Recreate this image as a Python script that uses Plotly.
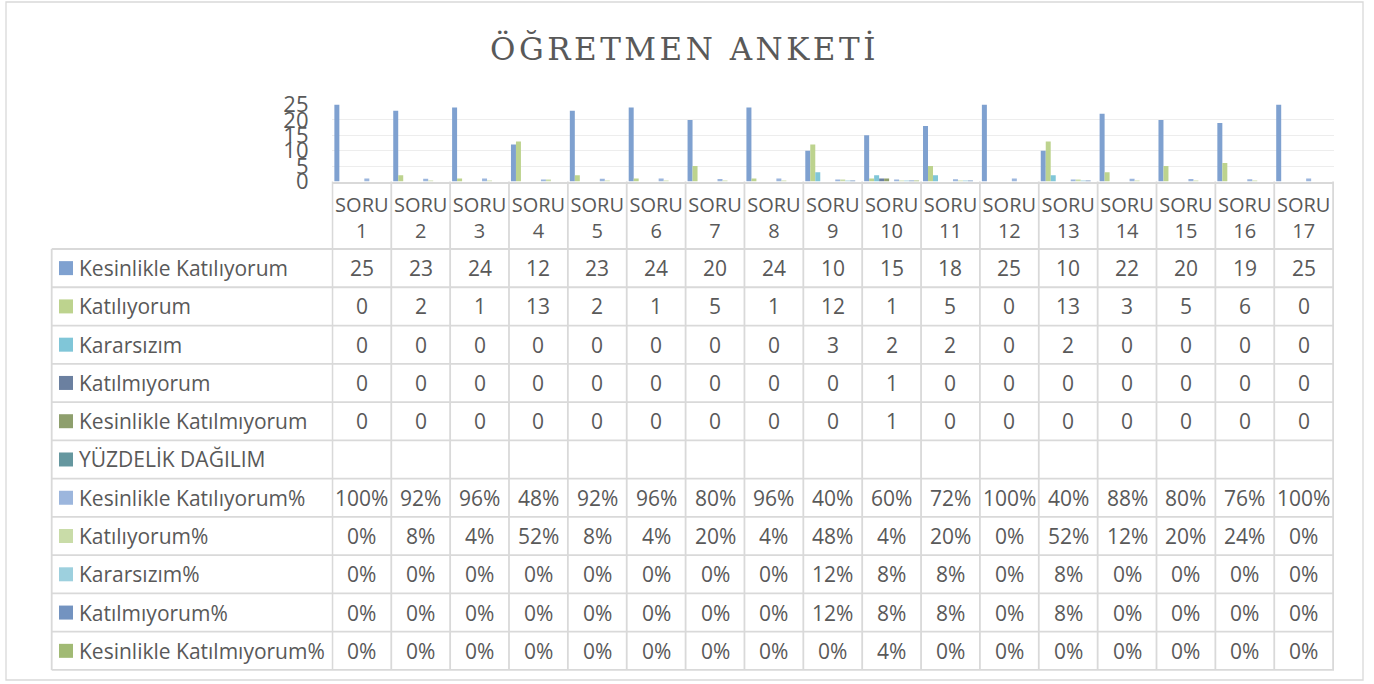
import plotly.graph_objects as go

W, H = 1374, 684

categories = [f"SORU {i}" for i in range(1, 18)]
tick_labels = [f"SORU<br>{i}" for i in range(1, 18)]

series_names = [
    "Kesinlikle Katılıyorum",
    "Katılıyorum",
    "Kararsızım",
    "Katılmıyorum",
    "Kesinlikle Katılmıyorum",
    "YÜZDELİK DAĞILIM",
    "Kesinlikle Katılıyorum%",
    "Katılıyorum%",
    "Kararsızım%",
    "Katılmıyorum%",
    "Kesinlikle Katılmıyorum%",
]

kesinlikle_katiliyorum = [25, 23, 24, 12, 23, 24, 20, 24, 10, 15, 18, 25, 10, 22, 20, 19, 25]
katiliyorum = [0, 2, 1, 13, 2, 1, 5, 1, 12, 1, 5, 0, 13, 3, 5, 6, 0]
kararsizim = [0, 0, 0, 0, 0, 0, 0, 0, 3, 2, 2, 0, 2, 0, 0, 0, 0]
katilmiyorum = [0, 0, 0, 0, 0, 0, 0, 0, 0, 1, 0, 0, 0, 0, 0, 0, 0]
kesinlikle_katilmiyorum = [0, 0, 0, 0, 0, 0, 0, 0, 0, 1, 0, 0, 0, 0, 0, 0, 0]
yuzdelik = [None] * 17
kk_pct = [100, 92, 96, 48, 92, 96, 80, 96, 40, 60, 72, 100, 40, 88, 80, 76, 100]
k_pct = [0, 8, 4, 52, 8, 4, 20, 4, 48, 4, 20, 0, 52, 12, 20, 24, 0]
kr_pct = [0, 0, 0, 0, 0, 0, 0, 0, 12, 8, 8, 0, 8, 0, 0, 0, 0]
km_pct = [0, 0, 0, 0, 0, 0, 0, 0, 12, 8, 8, 0, 8, 0, 0, 0, 0]
kkm_pct = [0, 0, 0, 0, 0, 0, 0, 0, 0, 4, 0, 0, 0, 0, 0, 0, 0]

colors = ["#7FA1D0", "#BDD38E", "#80C6D8", "#6B80A0", "#8E9F6D", "#65979F",
          "#9CB6DD", "#C9DCA8", "#9DD0DE", "#7393C0", "#A1BA74"]

counts = [kesinlikle_katiliyorum, katiliyorum, kararsizim, katilmiyorum,
          kesinlikle_katilmiyorum, yuzdelik]
pcts = [kk_pct, k_pct, kr_pct, km_pct, kkm_pct]

# bar values: counts as-is, percentages as fractions (as in the source workbook)
bar_values = counts + [[p / 100 for p in s] for s in pcts]
table_texts = [[("" if v is None else str(v)) for v in s] for s in counts] + \
              [[f"{p}%" for p in s] for s in pcts]

TXT = "#595959"
GRID = "#D9D9D9"
FONT = "Open Sans"


def px(x):
    return x / W


def py(y):
    return 1 - y / H


plot_l, plot_r = 331.5, 1334.0
plot_t, plot_b = 104.5, 181.5
tab_top = 249.0
row_h = 38.27
tab_left = 51.7

fig = go.Figure()
for name, vals, c in zip(series_names, bar_values, colors):
    fig.add_trace(go.Bar(name=name, x=categories, y=vals, marker=dict(color=c, line_width=0),
                         showlegend=False))

shapes = []
annotations = []

shapes.append(dict(type="rect", xref="paper", yref="paper", x0=px(6), x1=px(1363),
                   y0=py(680), y1=py(2), line=dict(color=GRID, width=1.3)))

n_rows = len(series_names)
tab_bottom = tab_top + n_rows * row_h

for i in range(n_rows + 1):
    yy = tab_top + i * row_h
    shapes.append(dict(type="line", xref="paper", yref="paper", x0=px(tab_left), x1=px(plot_r),
                       y0=py(yy), y1=py(yy), line=dict(color=GRID, width=1.8)))
shapes.append(dict(type="line", xref="paper", yref="paper", x0=px(tab_left), x1=px(tab_left),
                   y0=py(tab_top), y1=py(tab_bottom), line=dict(color=GRID, width=1.8)))
for i in range(len(categories) + 1):
    shapes.append(dict(type="line", xref="x", yref="paper", x0=i - 0.5, x1=i - 0.5,
                       y0=py(plot_b), y1=py(tab_bottom), line=dict(color=GRID, width=1.8)))

for r, (name, c, texts) in enumerate(zip(series_names, colors, table_texts)):
    yc = tab_top + (r + 0.5) * row_h
    shapes.append(dict(type="rect", xref="paper", yref="paper", x0=px(59), x1=px(73),
                       y0=py(yc + 7), y1=py(yc - 7), fillcolor=c, line_width=0))
    annotations.append(dict(text=name, xref="paper", yref="paper", x=px(77), y=py(yc),
                            xanchor="left", yanchor="middle", showarrow=False,
                            font=dict(family=FONT, size=21, color=TXT)))
    for cat, t in zip(categories, texts):
        if t:
            annotations.append(dict(text=t, xref="x", yref="paper", x=cat, y=py(yc),
                                    xanchor="center", yanchor="middle", showarrow=False,
                                    font=dict(family=FONT, size=21, color=TXT)))

annotations.append(dict(text='<span style="letter-spacing:3.5px">ÖĞRETMEN ANKETİ</span>',
                        xref="paper", yref="paper", x=px(684), y=py(48),
                        xanchor="center", yanchor="middle", showarrow=False,
                        font=dict(family="DejaVu Serif", size=31, color=TXT)))

fig.update_layout(
    width=W, height=H,
    margin=dict(l=0, r=0, t=0, b=0, autoexpand=False),
    paper_bgcolor="white", plot_bgcolor="white",
    barmode="group", bargap=0.067, bargroupgap=0,
    shapes=shapes, annotations=annotations,
    xaxis=dict(domain=[px(plot_l), px(plot_r)], tickvals=categories, ticktext=tick_labels,
               showgrid=False, showline=True, linecolor=GRID, linewidth=2, ticks="",
               automargin=False, ticklabelstandoff=4,
               tickfont=dict(family=FONT, size=20, color=TXT)),
    yaxis=dict(domain=[py(plot_b), py(plot_t)], range=[0, 25], dtick=5,
               showgrid=True, gridcolor="#EDEDED", gridwidth=1.3, zeroline=False,
               showline=False, ticks="", ticklabelstandoff=22, automargin=False,
               tickfont=dict(family=FONT, size=22, color=TXT)),
)

fig.write_html(
    "out.html",
    config={"displayModeBar": False},
    post_script="document.body.style.margin='0';document.documentElement.style.overflow='hidden';",
)
